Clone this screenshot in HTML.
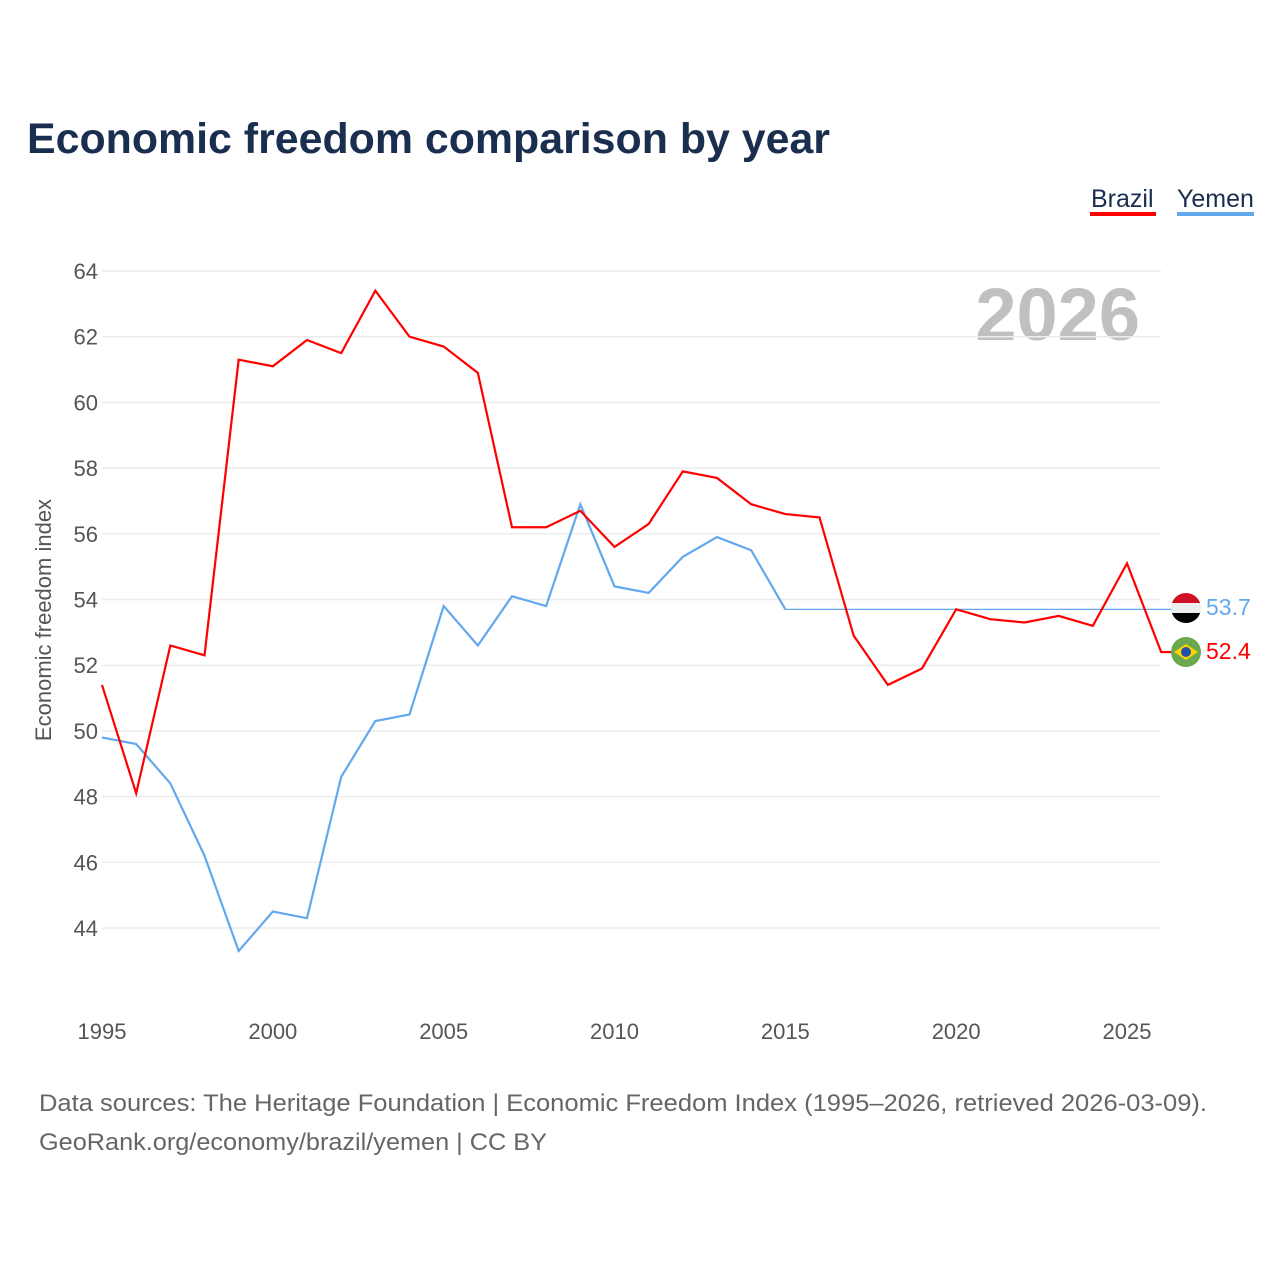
<!DOCTYPE html>
<html><head><meta charset="utf-8"><style>
body{margin:0;background:#fff;width:1280px;height:1280px;overflow:hidden;font-family:"Liberation Sans",sans-serif}
</style></head><body>
<svg id="c" width="1280" height="1280" xmlns="http://www.w3.org/2000/svg" font-family="Liberation Sans, sans-serif">
<text x="27" y="153" font-size="43" font-weight="bold" fill="#1a2e4f" textLength="803" lengthAdjust="spacingAndGlyphs">Economic freedom comparison by year</text>
<g><text x="1091" y="207" font-size="25" fill="#1a2e4f">Brazil</text><rect x="1090" y="212" width="66" height="4" fill="#ff0000"/></g>
<g><text x="1177" y="207" font-size="25" fill="#1a2e4f">Yemen</text><rect x="1177" y="212" width="77" height="4" fill="#62a8ee"/></g>
<text x="1140" y="340" font-size="74" font-weight="bold" fill="#c0c0c0" text-anchor="end">2026</text>
<text transform="translate(51,620) rotate(-90)" font-size="22" fill="#555" text-anchor="middle">Economic freedom index</text>
<g id="grid"></g><g id="series"></g>
<g>
<clipPath id="cy"><circle cx="1186" cy="608" r="15"/></clipPath>
<g clip-path="url(#cy)"><rect x="1170" y="592" width="32" height="11" fill="#ce1126"/><rect x="1170" y="603" width="32" height="10" fill="#eee"/><rect x="1170" y="613" width="32" height="11" fill="#000"/></g>
<text x="1206" y="615" font-size="23" fill="#62a8ee">53.7</text></g>
<g>
<circle cx="1186" cy="652" r="15" fill="#6aa84f"/><polygon points="1174,652 1186,644 1198,652 1186,660" fill="#ffd400"/><circle cx="1186" cy="652" r="5" fill="#1f4fa8"/>
<text x="1206" y="659" font-size="23" fill="#ff0000">52.4</text></g>
<text x="39" y="1111" font-size="24" fill="#666" textLength="1168" lengthAdjust="spacingAndGlyphs">Data sources: The Heritage Foundation | Economic Freedom Index (1995–2026, retrieved 2026-03-09).</text>
<text x="39" y="1150" font-size="24" fill="#666" textLength="508" lengthAdjust="spacingAndGlyphs">GeoRank.org/economy/brazil/yemen | CC BY</text>
</svg>
<script>
const years=[1995,1996,1997,1998,1999,2000,2001,2002,2003,2004,2005,2006,2007,2008,2009,2010,2011,2012,2013,2014,2015,2016,2017,2018,2019,2020,2021,2022,2023,2024,2025,2026];
const brazil=[51.4,48.1,52.6,52.3,61.3,61.1,61.9,61.5,63.4,62.0,61.7,60.9,56.2,56.2,56.7,55.6,56.3,57.9,57.7,56.9,56.6,56.5,52.9,51.4,51.9,53.7,53.4,53.3,53.5,53.2,55.1,52.4];
const yemen=[49.8,49.6,48.4,46.2,43.3,44.5,44.3,48.6,50.3,50.5,53.8,52.6,54.1,53.8,56.9,54.4,54.2,55.3,55.9,55.5,53.7];
const yemenCarry=53.7;
const yTicks=[44,46,48,50,52,54,56,58,60,62,64];
const xTicks=[1995,2000,2005,2010,2015,2020,2025];
const NS="http://www.w3.org/2000/svg";
const X=v=>102+(v-1995)*(1127-102)/30;
const Y=v=>271+(64-v)*(928-271)/20;
function mk(t,a,p){const e=document.createElementNS(NS,t);for(const k in a)e.setAttribute(k,a[k]);p.appendChild(e);return e;}
const g=document.getElementById('grid'),s=document.getElementById('series');
yTicks.forEach(v=>{
 const l=mk('line',{x1:102,x2:1161,y1:Y(v),y2:Y(v),stroke:'#ececec','stroke-width':1.5},g);
 
 
 const t=mk('text',{x:98,y:Y(v)+8,'font-size':22,fill:'#555','text-anchor':'end'},g);t.textContent=v;
 
 
});
xTicks.forEach(v=>{
 const t=mk('text',{x:X(v),y:1039,'font-size':22,fill:'#555','text-anchor':'middle'},g);t.textContent=v;
 
 
});
const ycarry=mk('line',{x1:X(years[yemen.length-1]),x2:1172,y1:Y(yemenCarry),y2:Y(yemenCarry),stroke:'#62a8ee','stroke-width':1.2},s);


const yl=mk('polyline',{points:yemen.map((v,i)=>X(years[i])+','+Y(v)).join(' '),fill:'none',stroke:'#62a8ee','stroke-width':2.2},s);


const bl=mk('polyline',{points:brazil.map((v,i)=>X(years[i])+','+Y(v)).join(' ')+' 1172,'+Y(brazil[brazil.length-1]),fill:'none',stroke:'#ff0000','stroke-width':2.2},s);


</script>
</body></html>
